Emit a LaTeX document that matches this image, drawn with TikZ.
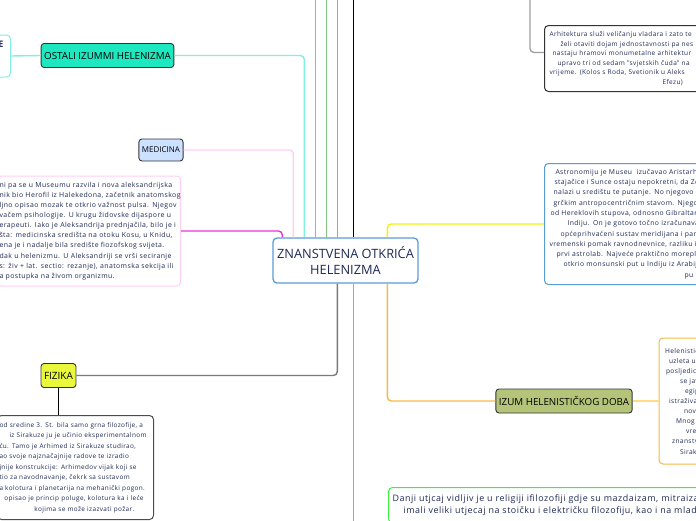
\documentclass[tikz,border=0pt]{standalone}
\usepackage{fontspec}
\setmainfont{Open Sans}
\newfontfamily\notefont[LetterSpace=6]{Open Sans}
\usetikzlibrary{positioning}
\definecolor{ink}{HTML}{1F2A55}
\definecolor{rootblue}{HTML}{5B9BD5}
\definecolor{tealfill}{HTML}{1EE8C0}
\definecolor{medfill}{HTML}{CCE0FF}
\definecolor{fizfill}{HTML}{EAF83C}
\definecolor{izumfill}{HTML}{B4C57A}
\definecolor{lcyan}{HTML}{80F2DC}
\definecolor{lblue}{HTML}{7DB8DE}
\definecolor{lgreen}{HTML}{82C882}
\definecolor{lred}{HTML}{E3848F}
\definecolor{lpink}{HTML}{FFD0F2}
\definecolor{lmagenta}{HTML}{E832D8}
\definecolor{lgrey}{HTML}{7A7A7A}
\definecolor{lgreyb}{HTML}{A0A0A0}
\definecolor{lbright}{HTML}{3AF03A}
\definecolor{lorange}{HTML}{F5BA45}
\definecolor{lyellow}{HTML}{F2F20A}
\definecolor{lpeach}{HTML}{FFDB8A}
\tikzset{
  rootbox/.style={draw=rootblue, line width=1.3pt, rounded corners=4pt, fill=white, text=ink, align=center, minimum width=145pt, minimum height=45pt, inner sep=3pt, font=\fontsize{12.8}{16.5}\selectfont},
  topic/.style={draw=black!80, line width=0.9pt, rounded corners=3pt, text=black, minimum height=24pt, inner xsep=3pt, inner ysep=2pt, font=\fontsize{9.8}{12}\selectfont},
  note/.style={line width=1pt, rounded corners=4pt, fill=white, text=ink, align=left, inner xsep=4pt, inner ysep=3pt},
  link/.style={line width=1.4pt, rounded corners=4pt}
}

\begin{document}
\begin{tikzpicture}[x=1pt, y=-1pt]
\useasboundingbox (0,0) rectangle (696,520);
\clip (0,0) rectangle (696,520);

\node[rootbox] (root) at (345.5,260.5) {ZNANSTVENA OTKRIĆA\\HELENIZMA};

\node[topic, fill=tealfill] (ostali) at (107.5,55.5) {OSTALI IZUMMI HELENIZMA};
\node[topic, fill=medfill, minimum height=22pt, font=\fontsize{8}{10}\selectfont] (medicina) at (161,150) {MEDICINA};
\node[topic, fill=fizfill, font=\fontsize{10}{12}\selectfont] (fizika) at (58.5,375.5) {FIZIKA};
\node[topic, fill=izumfill] (izum) at (564,401) {IZUM HELENISTIČKOG DOBA};

\node[note, draw=lcyan, text width=22pt, inner xsep=7pt, align=right, minimum height=42pt, anchor=east, font=\fontsize{9}{12}\selectfont\bfseries] (ebox) at (11,56) {E\\~\\~};

\node[note, draw=lpink, text width=179pt, inner xsep=2pt, minimum height=110pt, anchor=east, font=\notefont\fontsize{6.9}{10.1}\selectfont] (medtext) at (181,231) {ni pa se u Museumu razvila i nova aleksandrijska\\
nik bio Herofil iz Halekedona, začetnik anatomskog\\
ljno opisao mozak te otkrio važnost pulsa. Njegov\\
vačem psihologije. U krugu židovske dijaspore u\\
erapeuti. Iako je Aleksandrija prednjačila, bilo je i\\
šta: medicinska središta na otoku Kosu, u Knidu,\\
ena je i nadalje bila središte fiozofskog svijeta.\\
dak u helenizmu. U Aleksandriji se vrši seciranje\\
s: živ + lat. sectio: rezanje), anatomska sekcija ili\\
a postupka na živom organizmu.};

\node[note, draw=black!70, text width=152pt, inner xsep=2pt, minimum height=104pt, anchor=north east, font=\notefont\fontsize{6.4}{10.5}\selectfont] (fiztext) at (154,415) {od sredine 3. St. bila samo grna filozofije, a\\
\hspace*{10pt}iz Sirakuze ju je učinio eksperimentalnom\\
ću. Tamo je Arhimed iz Sirakuze studirao,\\
ao svoje najznačajnije radove te izradio\\
jnije konstrukcije: Arhimedov vijak koji se\\
tio za navodnavanje, čekrk sa sustavom\\
a kolotura i planetarija na mehanički pogon.\\
\hspace*{5pt}opisao je princip poluge, kolotura ka i leće\\
\hspace*{35pt}kojima se može izazvati požar.};

\node[note, draw=black!80, text width=200pt, minimum height=66pt, anchor=north west, font=\notefont\fontsize{6.5}{9.6}\selectfont] (arhi) at (544,25) {\hspace*{1pt}Arhitektura služi veličanju vladara i zato te\\
\hspace*{12pt}želi otaviti dojam jednostavnosti pa nes\\
\hspace*{4pt}nastaju hramovi monumetalne arhitektur\\
\hspace*{9pt}upravo tri od sedam \textquotedbl svjetskih čuda\textquotedbl{} na\\
\hspace*{1pt}vrijeme. (Kolos s Roda, Svetionik u Aleks\\
\hspace*{114pt}Efezu)};

\node[note, draw=rootblue, text width=200pt, minimum height=121pt, anchor=north west, font=\notefont\fontsize{6.8}{10.3}\selectfont] (astro) at (544,163) {\hspace*{7pt}Astronomiju je Museu\ \ izučavao Aristarh\\
\hspace*{6pt}stajačice i Sunce ostaju nepokretni, da Ze\\
\hspace*{5pt}nalazi u središtu te putanje. No njegovo m\\
\hspace*{5pt}grčkim antropocentričnim stavom. Njegov\\
\hspace*{2pt}od Hereklovih stupova, odnosno Gibraltar\\
\hspace*{19pt}Indiju. On je gotovo točno izračunavaop\\
\hspace*{12pt}općeprihvaćeni sustav meridijana i parale\\
\hspace*{1pt}vremenski pomak ravnodnevnice, razliku i\\
\hspace*{8pt}prvi astrolab. Najveće praktično moreplov\\
\hspace*{15pt}otkrio monsunski put u Indiju iz Arabij\\
\hspace*{136pt}pu};

\node[note, draw=lorange, text width=80pt, minimum height=126pt, right=26pt of izum, font=\notefont\fontsize{6.6}{10.1}\selectfont] (helen) {\hspace*{2pt}Helenistič\\
\hspace*{6pt}uzleta u\\
\hspace*{3pt}posljedic\\
\hspace*{17pt}se jav\\
\hspace*{22pt}egip\\
\hspace*{6pt}istraživa\\
\hspace*{21pt}nov\\
\hspace*{13pt}Mnog\\
\hspace*{23pt}vre\\
\hspace*{9pt}znanstv\\
\hspace*{17pt}Sirak};

\node[note, draw=lbright, text width=420pt, inner ysep=7pt, anchor=north west, font=\notefont\fontsize{8.9}{12.3}\selectfont] (legacy) at (388,487) {Danji utjcaj vidljiv je u religiji ifilozofiji gdje su mazdaizam, mitraizam\\
\hspace*{11pt}imali veliki utjecaj na stoičku i električku filozofiju, kao i na mlad};

\coordinate (offtop) at (0,-4);
\coordinate (offbottom) at (0,526);
\coordinate (arhiup) at (530,-4);
\foreach \n/\dx in {mg/10, pk/21, cy/32, bl/43, gr/54, rd/65, bk/81, yl/115}
  \coordinate (up\n) at ([xshift=\dx pt]root.north west);
\foreach \n/\dx in {gy/65, bg/81, or/115}
  \coordinate (dn\n) at ([xshift=\dx pt]root.south west);

\draw[link, lmagenta] (upmg) |- (medtext.east);
\draw[link, lpink] (uppk) |- (medicina.east);
\draw[link, lcyan] (upcy) |- (ostali.east);
\draw[link, lcyan] (ostali.west) -- (ebox.east);
\foreach \n/\c in {bl/lblue, gr/lgreen, rd/lred}
  \draw[link, \c] (up\n) -- (up\n |- offtop);
\draw[link, black, line width=1pt] (upbk) -- (upbk |- offtop);
\draw[link, lyellow] (upyl) |- (astro.west);
\draw[link, lgreyb] (arhiup) |- ([yshift=6pt]arhi.west);
\draw[link, lgrey] (dngy) |- (fizika.east);
\draw[link, lbright] (dnbg) -- (dnbg |- offbottom);
\draw[link, lorange] (dnor) |- (izum.west);
\draw[link, lpeach] (izum.east) -- (helen.west);
\draw[line width=1pt] (fizika.south) -- (fizika.south |- fiztext.north);
\end{tikzpicture}
\end{document}
